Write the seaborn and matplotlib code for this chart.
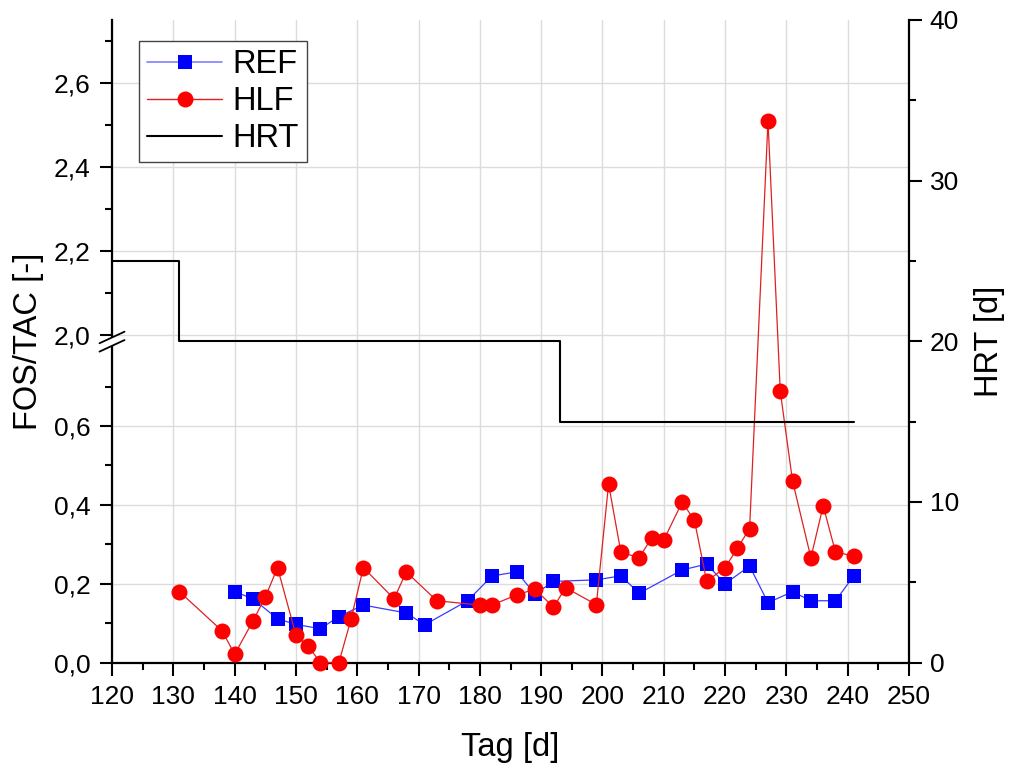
import numpy as np
import matplotlib
matplotlib.use('Agg')
import matplotlib.pyplot as plt
import seaborn as sns
from matplotlib.lines import Line2D
from matplotlib.patches import Polygon

# ---------------- data ----------------
ref_days = [140, 143, 147, 150, 154, 157, 161, 168, 171, 178, 182, 186, 189,
            192, 199, 203, 206, 213, 217, 220, 224, 227, 231, 234, 238, 241]
ref_vals = [0.180, 0.162, 0.111, 0.097, 0.086, 0.117, 0.146, 0.126, 0.096,
            0.157, 0.220, 0.230, 0.174, 0.206, 0.210, 0.220, 0.176, 0.235,
            0.250, 0.200, 0.245, 0.152, 0.180, 0.157, 0.157, 0.220]

hlf_days = [131, 138, 140, 143, 145, 147, 150, 152, 154, 157, 159, 161, 166,
            168, 173, 180, 182, 186, 189, 192, 194, 199, 201, 203, 206, 208,
            210, 213, 215, 217, 220, 222, 224, 227, 229, 231, 234, 236, 238, 241]
hlf_vals = [0.180, 0.080, 0.021, 0.106, 0.166, 0.241, 0.070, 0.042, 0.000,
            0.000, 0.111, 0.241, 0.162, 0.230, 0.157, 0.146, 0.146, 0.172,
            0.186, 0.141, 0.190, 0.147, 0.453, 0.280, 0.266, 0.316, 0.311,
            0.407, 0.361, 0.206, 0.241, 0.290, 0.340, 2.510, 0.688, 0.461,
            0.266, 0.398, 0.281, 0.270]

hrt_days = [120, 131, 193, 241]
hrt_vals = [25, 20, 15, 15]

x_ticks = list(range(120, 251, 10))
x_minor = list(range(125, 250, 10))
left_ticks = [0.0, 0.2, 0.4, 0.6, 2.0, 2.2, 2.4, 2.6]
left_labels = ['0,0', '0,2', '0,4', '0,6', '2,0', '2,2', '2,4', '2,6']
left_minor = [0.1, 0.3, 0.5, 0.7, 2.1, 2.3, 2.5, 2.7]
right_ticks = [0, 10, 20, 30, 40]
right_minor = [5, 15, 25, 35]

# ---------------- style ----------------
sns.set_theme(style='white')
plt.rcParams['font.family'] = ['Liberation Sans', 'DejaVu Sans']
plt.rcParams['text.color'] = 'black'
plt.rcParams['axes.labelcolor'] = 'black'
plt.rcParams['xtick.color'] = 'black'
plt.rcParams['ytick.color'] = 'black'

fig = plt.figure(figsize=(10.1, 7.66), dpi=100)
ax = fig.add_axes([0.1109, 0.1349, 0.7891, 0.839])

# broken left axis through a piecewise-linear function scale
_bin = [-10.0, 0.0, 0.8, 2.0, 2.75, 10.0]
_bout = [-3940.0, 0.0, 315.2, 327.0, 642.0, 3687.0]


def fwd(y):
    return np.interp(y, _bin, _bout)


def inv(v):
    return np.interp(v, _bout, _bin)


ax.set_yscale('function', functions=(fwd, inv))

BLUE = '#0000ff'
RED = '#ff0000'

sns.lineplot(x=ref_days, y=ref_vals, ax=ax, color='#3a3aff', lw=0.9,
             marker='s', markersize=9.6, markerfacecolor=BLUE,
             markeredgecolor=BLUE, markeredgewidth=0, clip_on=False,
             zorder=5, legend=False, estimator=None)
sns.lineplot(x=hlf_days, y=hlf_vals, ax=ax, color='#e02020', lw=0.9,
             marker='o', markersize=11.5, markerfacecolor=RED,
             markeredgecolor=RED, markeredgewidth=0, clip_on=False,
             zorder=6, legend=False, estimator=None)

ax.set_xlim(120, 250)
ax.set_ylim(0, 2.75)
ax.set_xticks(x_ticks)
ax.set_xticks(x_minor, minor=True)
ax.set_yticks(left_ticks)
ax.set_yticklabels(left_labels)
ax.set_yticks(left_minor, minor=True)

ax.grid(True, which='major', color='#dcdcdc', lw=1.0)
ax.set_axisbelow(True)

for s in ['top', 'right']:
    ax.spines[s].set_visible(False)
for s in ['left', 'bottom']:
    ax.spines[s].set_color('black')
    ax.spines[s].set_linewidth(1.6)

ax.tick_params(axis='both', which='major', direction='out', length=9,
               width=1.5, color='black', labelsize=19,
               left=True, bottom=True)
ax.tick_params(axis='x', which='major', pad=7)
ax.tick_params(axis='y', which='major', pad=6.5)
ax.tick_params(axis='both', which='minor', direction='out', length=4.8,
               width=1.5, color='black', left=True, bottom=True)
ax.set_xlabel('Tag [d]', fontsize=23.5, labelpad=17)
ax.set_ylabel('FOS/TAC [-]', fontsize=23.5, labelpad=7)

# right axis: HRT
ax2 = ax.twinx()
sns.lineplot(x=hrt_days, y=hrt_vals, ax=ax2, color='black', lw=1.5,
             drawstyle='steps-post', legend=False, estimator=None, zorder=3)
ax2.set_ylim(0, 40)
ax2.set_yticks(right_ticks)
ax2.set_yticks(right_minor, minor=True)
ax2.grid(False)
for s in ['top', 'left', 'bottom']:
    ax2.spines[s].set_visible(False)
ax2.spines['right'].set_color('black')
ax2.spines['right'].set_linewidth(1.6)
ax2.tick_params(axis='y', which='major', direction='out', length=9,
                width=1.5, color='black', labelsize=19, pad=6, right=True)
ax2.tick_params(axis='y', which='minor', direction='out', length=4.8,
                width=1.5, color='black', right=True)
ax2.set_ylabel('HRT [d]', fontsize=23.5, labelpad=11)
ax2.set_xlim(120, 250)

# break marks on left axis
cy, dx, dy, off = 0.4995, 0.0157, 0.009, 0.0065
tr = ax2.transAxes
poly = Polygon([(-0.006, cy + off - dy * 0.38), (0.006, cy + off + dy * 0.38),
                (0.006, cy - off + dy * 0.38), (-0.006, cy - off - dy * 0.38)],
               closed=True, transform=tr, facecolor='white', edgecolor='none',
               clip_on=False, zorder=20)
ax2.add_patch(poly)
for o in (off, -off):
    ax2.add_line(Line2D([-dx, dx], [cy + o - dy, cy + o + dy], transform=tr,
                        color='black', lw=1.3, clip_on=False, zorder=21))

# legend
handles = [
    Line2D([], [], color='#8080ff', lw=1.2, marker='s', markersize=9.6,
           markerfacecolor=BLUE, markeredgecolor=BLUE, markeredgewidth=0),
    Line2D([], [], color='#e02020', lw=1.0, marker='o', markersize=11.5,
           markerfacecolor=RED, markeredgecolor=RED, markeredgewidth=0),
    Line2D([], [], color='black', lw=1.5),
]
leg = ax2.legend(handles, ['REF', 'HLF', 'HRT'], loc='upper left',
                 bbox_to_anchor=(0.034, 0.967), borderaxespad=0, fontsize=23.5,
                 frameon=True, fancybox=False, edgecolor='#444444',
                 framealpha=1, handlelength=2.3, handletextpad=0.3,
                 labelspacing=0.18, borderpad=0.25)
leg.get_frame().set_linewidth(1.0)
leg.set_zorder(30)

fig.savefig('out.png', dpi=100)
